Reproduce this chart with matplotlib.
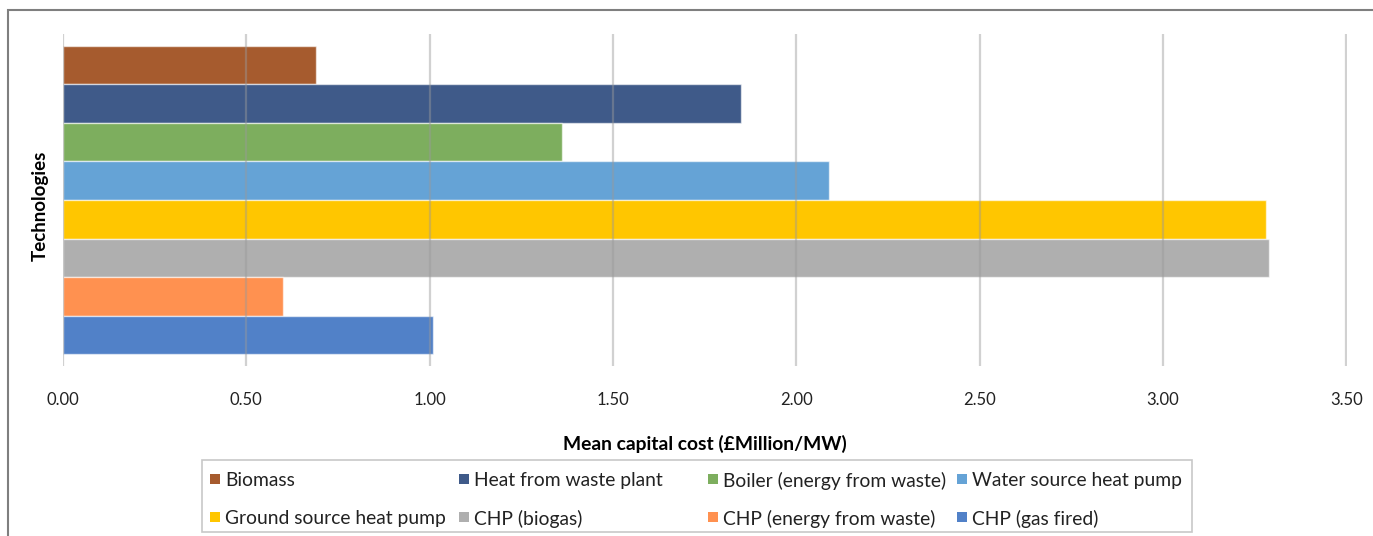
import matplotlib
matplotlib.use('Agg')
import matplotlib.pyplot as plt
from matplotlib.patches import Rectangle

# data
technologies = ['Biomass', 'Heat from waste plant', 'Boiler (energy from waste)',
                'Water source heat pump', 'Ground source heat pump', 'CHP (biogas)',
                'CHP (energy from waste)', 'CHP (gas fired)']
mean_cost = [0.69, 1.85, 1.36, 2.09, 3.28, 3.29, 0.60, 1.01]
colors = ['#A65B2E', '#3F5A89', '#7DAE5E', '#65A3D6', '#FFC600', '#AFAFAF',
          '#FF9150', '#5181C8']
x_ticks = [0.0, 0.5, 1.0, 1.5, 2.0, 2.5, 3.0, 3.5]

plt.rcParams['font.family'] = ['Lato', 'DejaVu Sans']

W, H = 1373, 536
fig = plt.figure(figsize=(W / 100, H / 100), dpi=100)
ax = fig.add_axes([63/W, 1-366/H, (1346.5-63)/W, (366-34)/H])

n = len(technologies)
ypos = [n - 1 - i for i in range(n)]
ax.barh(ypos, mean_cost, height=1.0, color=colors,
        edgecolor=(1, 1, 1, 0.6), linewidth=1.0, zorder=1)

ax.set_xlim(0, 3.5)
ax.set_ylim(-0.81, n - 1 + 0.81)
ax.set_xticks(x_ticks)
ax.set_xticklabels(['%.2f' % t for t in x_ticks], fontsize=12, color='#222222')
ax.set_yticks([])
ax.tick_params(axis='x', length=0, pad=19)
for t in x_ticks:
    ax.axvline(t, color='#999999', alpha=0.45, lw=1.6, zorder=2)
for s in ax.spines.values():
    s.set_visible(False)

ax.set_xlabel('Mean capital cost (£Million/MW)', fontsize=13.9, fontweight='bold',
              labelpad=19)
fig.text(40/W, 1-206/H, 'Technologies', rotation=90, fontsize=13.5,
         fontweight='bold', ha='center', va='center')

# legend drawn like Excel: equal column widths, row-major order
fig.patches.append(Rectangle((202/W, 1-532/H), (1192-202)/W, (532-460)/H,
                             transform=fig.transFigure, fill=False,
                             edgecolor='#c8c8c8', lw=1.2))
for i, (name, c) in enumerate(zip(technologies, colors)):
    col, row = i % 4, i // 4
    x0 = 210 + col * 249
    yc = 479 + row * 38
    fig.patches.append(Rectangle((x0/W, 1-(yc+5)/H), 10/W, 10/H,
                                 transform=fig.transFigure, facecolor=c,
                                 edgecolor='none'))
    fig.text((x0+15)/W, 1-yc/H, name, fontsize=13.9, ha='left', va='center_baseline',
             color='#222222')

# outer chart border
fig.patches.append(Rectangle((8/W, -0.1), 1.2, 1 - 10/H + 0.1,
                             transform=fig.transFigure, fill=False,
                             edgecolor='#7f7f7f', lw=1.5))

fig.savefig('out.png', dpi=100)
